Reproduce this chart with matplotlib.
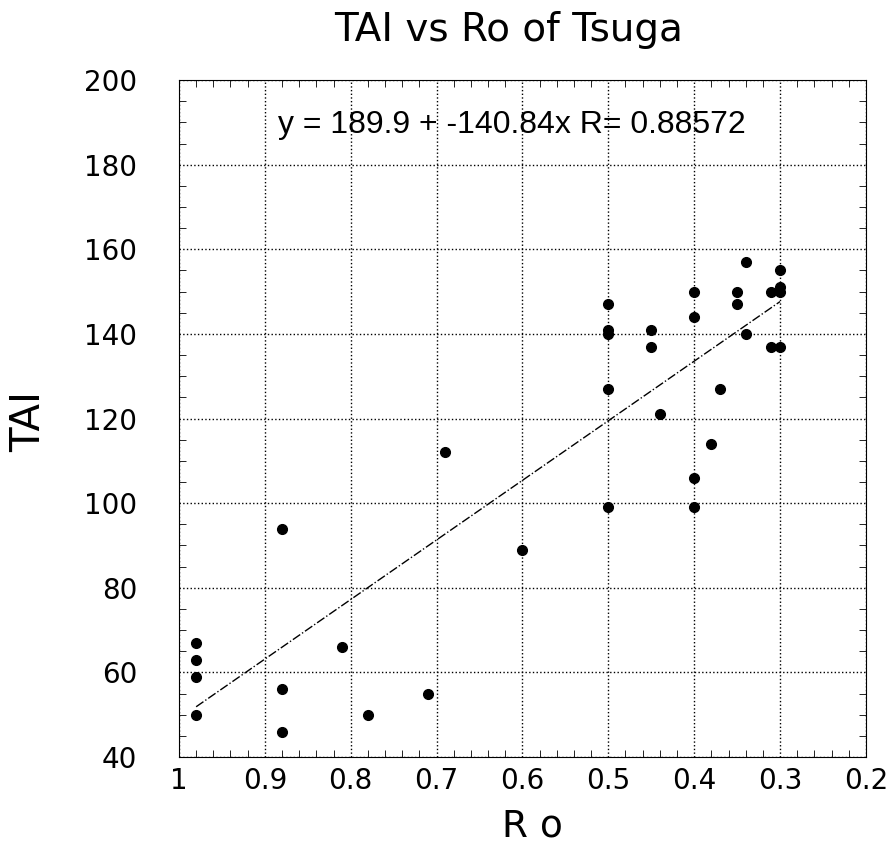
import matplotlib
matplotlib.use("Agg")
import matplotlib.pyplot as plt
import numpy as np

plt.rcParams['font.family'] = ['DejaVu Sans']

# data
ro = [0.98, 0.98, 0.98, 0.98, 0.88, 0.88, 0.88, 0.81, 0.78, 0.71, 0.69, 0.60,
      0.50, 0.50, 0.50, 0.50, 0.50, 0.45, 0.45, 0.44, 0.40, 0.40, 0.40, 0.40,
      0.38, 0.37, 0.35, 0.35, 0.34, 0.34, 0.31, 0.31, 0.30, 0.30, 0.30, 0.30]
tai = [67, 63, 59, 50, 94, 56, 46, 66, 50, 55, 112, 89,
       147, 141, 140, 127, 99, 141, 137, 121, 150, 144, 106, 99,
       114, 127, 150, 147, 157, 140, 150, 137, 155, 151, 150, 137]
intercept = 189.9
slope = -140.84
r_value = 0.88572

fig = plt.figure(figsize=(8.93, 8.43), dpi=100)
ax = fig.add_axes([0.2004, 0.102, 0.7693, 0.803])

ax.plot(ro, tai, 'o', color='black', markersize=7)
fit_x = np.array([max(ro), min(ro)])
ax.plot(fit_x, intercept + slope * fit_x, color='black', linestyle='-.', linewidth=1)

ax.set_xlim(1, 0.2)
ax.set_ylim(40, 200)
ax.set_xticks(np.arange(1.0, 0.19, -0.1))
ax.set_xticklabels(["1", "0.9", "0.8", "0.7", "0.6", "0.5", "0.4", "0.3", "0.2"])
ax.set_yticks(np.arange(40, 201, 20))
ax.set_xticks(np.arange(1.0, 0.19, -0.02), minor=True)
ax.set_yticks(np.arange(40, 201, 5), minor=True)
ax.tick_params(which='both', direction='in', top=True, right=True, labelsize=20)
ax.tick_params(which='major', length=0)
ax.tick_params(axis='x', which='major', pad=7)
ax.tick_params(axis='y', which='major', pad=30)
ax.tick_params(which='minor', length=5)
ax.grid(True, which='major', color='black', linestyle=':', linewidth=1)

ax.text(0.885, 189.5, "y = 189.9 + -140.84x R= 0.88572", fontsize=23,
        ha='left', va='center', family=['Liberation Sans'])

fig.text(0.569, 0.9644, "TAI vs Ro of Tsuga", fontsize=28, ha='center', va='center')
ax.set_xlabel("R o", fontsize=27, va='baseline')
ax.xaxis.set_label_coords(0.514, -0.1176)
ax.set_ylabel("TAI", fontsize=29, va='center')
ax.yaxis.set_label_coords(-0.218, 0.495)

fig.savefig("out.png", dpi=100)
